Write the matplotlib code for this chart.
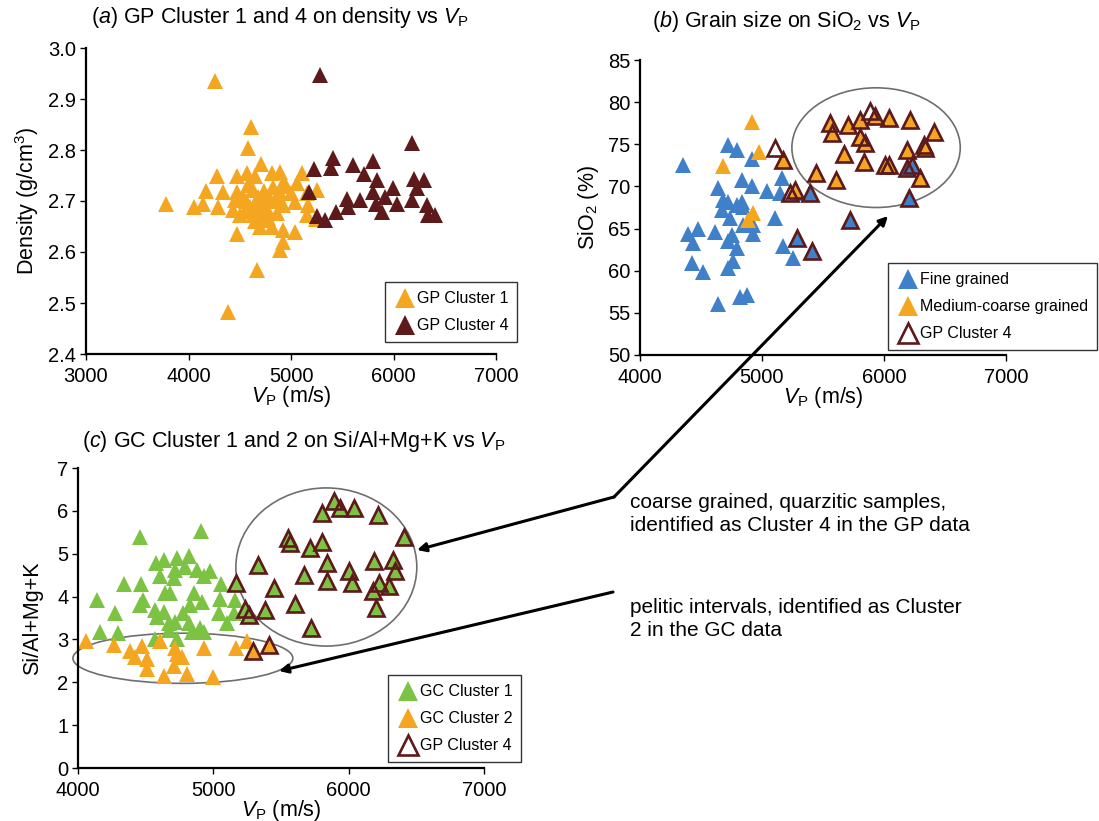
import matplotlib
matplotlib.use("Agg")
import matplotlib.pyplot as plt
from matplotlib.patches import Ellipse, FancyArrowPatch

plt.rcParams['font.family'] = ['Liberation Sans', 'DejaVu Sans']
plt.rcParams['mathtext.fontset'] = 'custom'
plt.rcParams['mathtext.rm'] = 'Liberation Sans'
plt.rcParams['mathtext.it'] = 'Liberation Sans:italic'

# colours
orange = '#F4A621'
maroon = '#5E1A1B'
blue = '#3F80C8'
green = '#7CC243'

# ---- panel (a): GP cluster 1 and 4, density vs Vp ----
a_c1_vp = [3780, 4260, 4610, 4585, 4707, 4673, 4383, 4057, 4144, 4168, 4275, 4291, 4340,
           4470, 4470, 4454, 4437, 4568, 4584, 4649, 4535, 4600, 4502, 4632, 4730, 4812,
           4893, 4821, 4925, 4955, 4762, 4844, 4925, 4860, 4746, 4698, 4812, 4779, 4925,
           5039, 4470, 4925, 4893, 5104, 5055, 5039, 5153, 5169, 5153, 5251, 4632, 4680,
           4700, 4750, 4780, 4650, 4720, 4800, 4870, 4550, 4660, 4740, 4890, 4560, 5000, 5240]
a_c1_rho = [2.695, 2.935, 2.845, 2.804, 2.773, 2.565, 2.482, 2.688, 2.695, 2.720, 2.749, 2.688, 2.718,
            2.749, 2.718, 2.702, 2.682, 2.754, 2.731, 2.749, 2.708, 2.689, 2.673, 2.673, 2.686, 2.754,
            2.757, 2.728, 2.735, 2.730, 2.708, 2.702, 2.692, 2.676, 2.663, 2.650, 2.650, 2.666, 2.643,
            2.640, 2.636, 2.620, 2.604, 2.754, 2.735, 2.699, 2.715, 2.692, 2.673, 2.722, 2.722, 2.708,
            2.690, 2.700, 2.680, 2.660, 2.670, 2.700, 2.700, 2.680, 2.695, 2.720, 2.715, 2.700, 2.715, 2.665]
a_c4_vp = [5283, 6178, 5224, 5407, 5387, 5602, 5803, 5712, 5836, 5803, 5998, 5917, 5829, 6031,
           5884, 6200, 6298, 6226, 6178, 6324, 6340, 6405, 5549, 5559, 5673, 5439, 5179, 5257, 5332]
a_c4_rho = [2.947, 2.814, 2.762, 2.784, 2.764, 2.771, 2.779, 2.753, 2.741, 2.718, 2.725, 2.708, 2.695, 2.695,
            2.679, 2.744, 2.742, 2.725, 2.702, 2.692, 2.673, 2.673, 2.703, 2.689, 2.701, 2.679, 2.718, 2.671, 2.663]

# ---- panel (b): grain size, SiO2 vs Vp ----
b_fine_vp = [4350, 4725, 4793, 4922, 4643, 4834, 4916, 5039, 5162, 5148, 5285, 4684, 4725, 4670,
             4793, 4834, 4848, 4738, 5107, 4848, 4396, 4478, 4437, 4615, 4752, 4725, 4793, 4930,
             4930, 5176, 5258, 4424, 4519, 4725, 4766, 4643, 4820, 4875, 5395, 5723, 6188, 6229,
             6202, 5408, 5285]
b_fine_si = [72.5, 74.9, 74.3, 73.3, 69.8, 70.8, 70.0, 69.4, 71.0, 69.2, 69.2, 68.4, 68.2, 67.2,
             67.8, 68.2, 67.6, 66.2, 66.2, 65.4, 64.4, 65.0, 63.3, 64.6, 64.2, 63.5, 62.7, 64.4,
             65.4, 62.9, 61.5, 60.9, 59.9, 60.3, 61.1, 56.1, 56.9, 57.1, 69.2, 66.0, 72.2, 72.5,
             68.6, 62.3, 63.9]
b_med_vp = [4922, 4976, 4684, 4889, 4930, 5176, 5272, 5444, 5559, 5573, 5709, 5674, 5805, 5805,
            5846, 5928, 5838, 6037, 6010, 6037, 6210, 6406, 6324, 6338, 6188, 6297, 5608]
b_med_si = [77.7, 74.1, 72.4, 66.0, 66.8, 73.1, 69.6, 71.6, 77.5, 76.3, 77.3, 73.9, 77.9, 75.9,
            75.1, 78.3, 72.9, 78.1, 72.5, 72.5, 77.9, 76.5, 74.9, 74.5, 74.3, 71.0, 70.8]
b_c4_vp = [5176, 5272, 5444, 5559, 5573, 5709, 5674, 5805, 5805, 5846, 5928, 5838, 6037, 6010,
           6037, 6210, 6406, 6324, 6338, 6188, 6297, 5608, 5107, 5887, 5230, 5395, 5723, 6188,
           6229, 6202, 5408, 5285]
b_c4_si = [73.1, 69.6, 71.6, 77.5, 76.3, 77.3, 73.9, 77.9, 75.9, 75.1, 78.3, 72.9, 78.1, 72.5,
           72.5, 77.9, 76.5, 74.9, 74.5, 74.3, 71.0, 70.8, 74.5, 78.9, 69.2, 69.2, 66.0, 72.2,
           72.5, 68.6, 62.3, 63.9]

# ---- panel (c): GC cluster 1 and 2, Si/Al+Mg+K vs Vp ----
c_c4_vp = [5888, 5933, 6041, 5802, 6214, 6412, 5549, 5564, 5806, 5711, 5327, 5838, 6190, 6325,
           6343, 6005, 6022, 5671, 5838, 5169, 5445, 6226, 6300, 6178, 5605, 5235, 5260, 5383,
           6202, 5720, 5290, 5408]
c_c4_r = [6.22, 6.06, 6.06, 5.95, 5.91, 5.40, 5.36, 5.24, 5.28, 5.13, 4.74, 4.78, 4.82, 4.86,
          4.59, 4.59, 4.32, 4.51, 4.36, 4.32, 4.20, 4.32, 4.24, 4.12, 3.83, 3.71, 3.56, 3.68,
          3.73, 3.26, 2.73, 2.88]
c_c1_vp = [4455, 4911, 4140, 4165, 4276, 4293, 4337, 4468, 4480, 4460, 4576, 4632, 4608, 4731,
           4817, 4793, 4719, 4879, 4928, 4972, 4707, 4645, 4682, 4854, 4829, 4916, 4571, 4632,
           4583, 4775, 4670, 4719, 4817, 4670, 4842, 4903, 4928, 4571, 4731, 5058, 5046, 5039,
           5162, 5150, 5101] + c_c4_vp[:30]
c_c1_r = [5.40, 5.52, 3.92, 3.18, 3.61, 3.14, 4.30, 4.30, 3.92, 3.80, 4.78, 4.86, 4.47, 4.90,
          4.94, 4.70, 4.63, 4.63, 4.47, 4.59, 4.43, 4.08, 4.08, 4.08, 3.80, 3.88, 3.69, 3.65,
          3.53, 3.61, 3.38, 3.41, 3.38, 3.22, 3.18, 3.26, 3.18, 3.02, 3.02, 4.30, 3.95, 3.61,
          3.91, 3.61, 3.38] + c_c4_r[:30]
c_c2_vp = [4062, 4263, 4386, 4473, 4424, 4510, 4510, 4608, 4632, 4719, 4731, 4768, 4707, 4805,
           4928, 4997, 5169, 5248, 5290, 5408]
c_c2_r = [2.96, 2.88, 2.73, 2.85, 2.58, 2.54, 2.30, 2.96, 2.15, 2.81, 2.65, 2.58, 2.38, 2.19,
          2.81, 2.12, 2.81, 2.96, 2.73, 2.88]

W, H = 1099, 821
fig = plt.figure(figsize=(W / 100, H / 100), dpi=100)


def box(l, t, r, b):
    return [l / W, 1 - b / H, (r - l) / W, (b - t) / H]


def fp(x, y):
    return (x / W, 1 - y / H)


ax_a = fig.add_axes(box(86, 48, 496, 354))
ax_b = fig.add_axes(box(640, 60, 1006, 355))
ax_c = fig.add_axes(box(78, 468, 484, 768))

ms = 11
filled = dict(marker='^', linestyle='none', markersize=ms, markeredgewidth=0)
hollow = dict(marker='^', linestyle='none', markersize=ms, markerfacecolor='none',
              markeredgecolor=maroon, markeredgewidth=1.9)

ax_a.plot(a_c1_vp, a_c1_rho, color=orange, label='GP Cluster 1', **filled)
ax_a.plot(a_c4_vp, a_c4_rho, color=maroon, label='GP Cluster 4', **filled)

ax_b.plot(b_fine_vp, b_fine_si, color=blue, label='Fine grained', **filled)
ax_b.plot(b_med_vp, b_med_si, color=orange, label='Medium-coarse grained', **filled)
ax_b.plot(b_c4_vp, b_c4_si, label='GP Cluster 4', **hollow)

ax_c.plot(c_c1_vp, c_c1_r, color=green, label='GC Cluster 1', **filled)
ax_c.plot(c_c2_vp, c_c2_r, color=orange, label='GC Cluster 2', **filled)
ax_c.plot(c_c4_vp, c_c4_r, label='GP Cluster 4', **hollow)

ax_a.set_xlim(3000, 7000)
ax_a.set_ylim(2.4, 3.0)
ax_a.set_xticks([3000, 4000, 5000, 6000, 7000])
ax_a.set_yticks([2.4, 2.5, 2.6, 2.7, 2.8, 2.9, 3.0])
ax_a.yaxis.set_major_formatter(matplotlib.ticker.FormatStrFormatter('%.1f'))

ax_b.set_xlim(4000, 7000)
ax_b.set_ylim(50, 85)
ax_b.set_xticks([4000, 5000, 6000, 7000])
ax_b.set_yticks(range(50, 90, 5))

ax_c.set_xlim(4000, 7000)
ax_c.set_ylim(0, 7)
ax_c.set_xticks([4000, 5000, 6000, 7000])
ax_c.set_yticks(range(0, 8))

for ax in (ax_a, ax_b, ax_c):
    for s in ('top', 'right'):
        ax.spines[s].set_visible(False)
    for s in ('left', 'bottom'):
        ax.spines[s].set_linewidth(1.6)
    ax.tick_params(labelsize=14.5, length=4, width=1, direction='out')
    ax.tick_params(axis='x', pad=5)
    ax.tick_params(axis='y', pad=3)
    ax.set_xlabel(r'$V_{\rm P}$ (m/s)', fontsize=15.5, labelpad=-1)

ax_a.set_ylabel(r'Density (g/cm$^3$)', fontsize=15.5, labelpad=5)
ax_b.set_ylabel(r'SiO$_2$ (%)', fontsize=15.5, labelpad=5)
ax_c.set_ylabel('Si/Al+Mg+K', fontsize=15.5, labelpad=10)

# ellipses around clusters
ax_b.add_patch(Ellipse((5935, 74.6), 1380, 14.2, fill=False, edgecolor='#6e6e6e', lw=1.2))
ax_c.add_patch(Ellipse((5835, 4.69), 1337, 3.69, fill=False, edgecolor='#6e6e6e', lw=1.2))
ax_c.add_patch(Ellipse((4775, 2.56), 1625, 1.17, fill=False, edgecolor='#6e6e6e', lw=1.2,
                       clip_on=False))

leg_kw = dict(loc='lower left', fontsize=11.5, frameon=True, fancybox=False,
              edgecolor='black', borderaxespad=0, handletextpad=0.05, handlelength=1.4,
              labelspacing=0.75, markerscale=1.3, borderpad=0.55,
              bbox_transform=fig.transFigure)
for ax, pos in ((ax_a, fp(385, 342)), (ax_b, fp(888, 350)), (ax_c, fp(388, 762))):
    leg = ax.legend(bbox_to_anchor=pos, **leg_kw)
    leg.get_frame().set_linewidth(1.0)

# titles
fig.text(*fp(280, 18), r'($\it{a}$) GP Cluster 1 and 4 on density vs $V_{\rm P}$',
         ha='center', va='center', fontsize=15.5)
fig.text(*fp(786, 22), r'($\it{b}$) Grain size on SiO$_2$ vs $V_{\rm P}$',
         ha='center', va='center', fontsize=15.5)
fig.text(*fp(294, 442), r'($\it{c}$) GC Cluster 1 and 2 on Si/Al+Mg+K vs $V_{\rm P}$',
         ha='center', va='center', fontsize=15.5)

# annotations
fig.text(*fp(630, 514), 'coarse grained, quarzitic samples,\nidentified as Cluster 4 in the GP data',
         ha='left', va='center', fontsize=15, linespacing=1.3)
fig.text(*fp(630, 619), 'pelitic intervals, identified as Cluster\n2 in the GC data',
         ha='left', va='center', fontsize=15, linespacing=1.3)

arr = dict(arrowstyle='-|>', mutation_scale=13, color='black', lw=2.2,
           transform=fig.transFigure, shrinkA=0, shrinkB=0)
fig.add_artist(FancyArrowPatch(fp(614, 497), fp(888, 216), **arr))
fig.add_artist(FancyArrowPatch(fp(614, 497), fp(417, 550), **arr))
fig.add_artist(FancyArrowPatch(fp(613, 592), fp(279, 671), **arr))

fig.savefig('out.png', dpi=100)
